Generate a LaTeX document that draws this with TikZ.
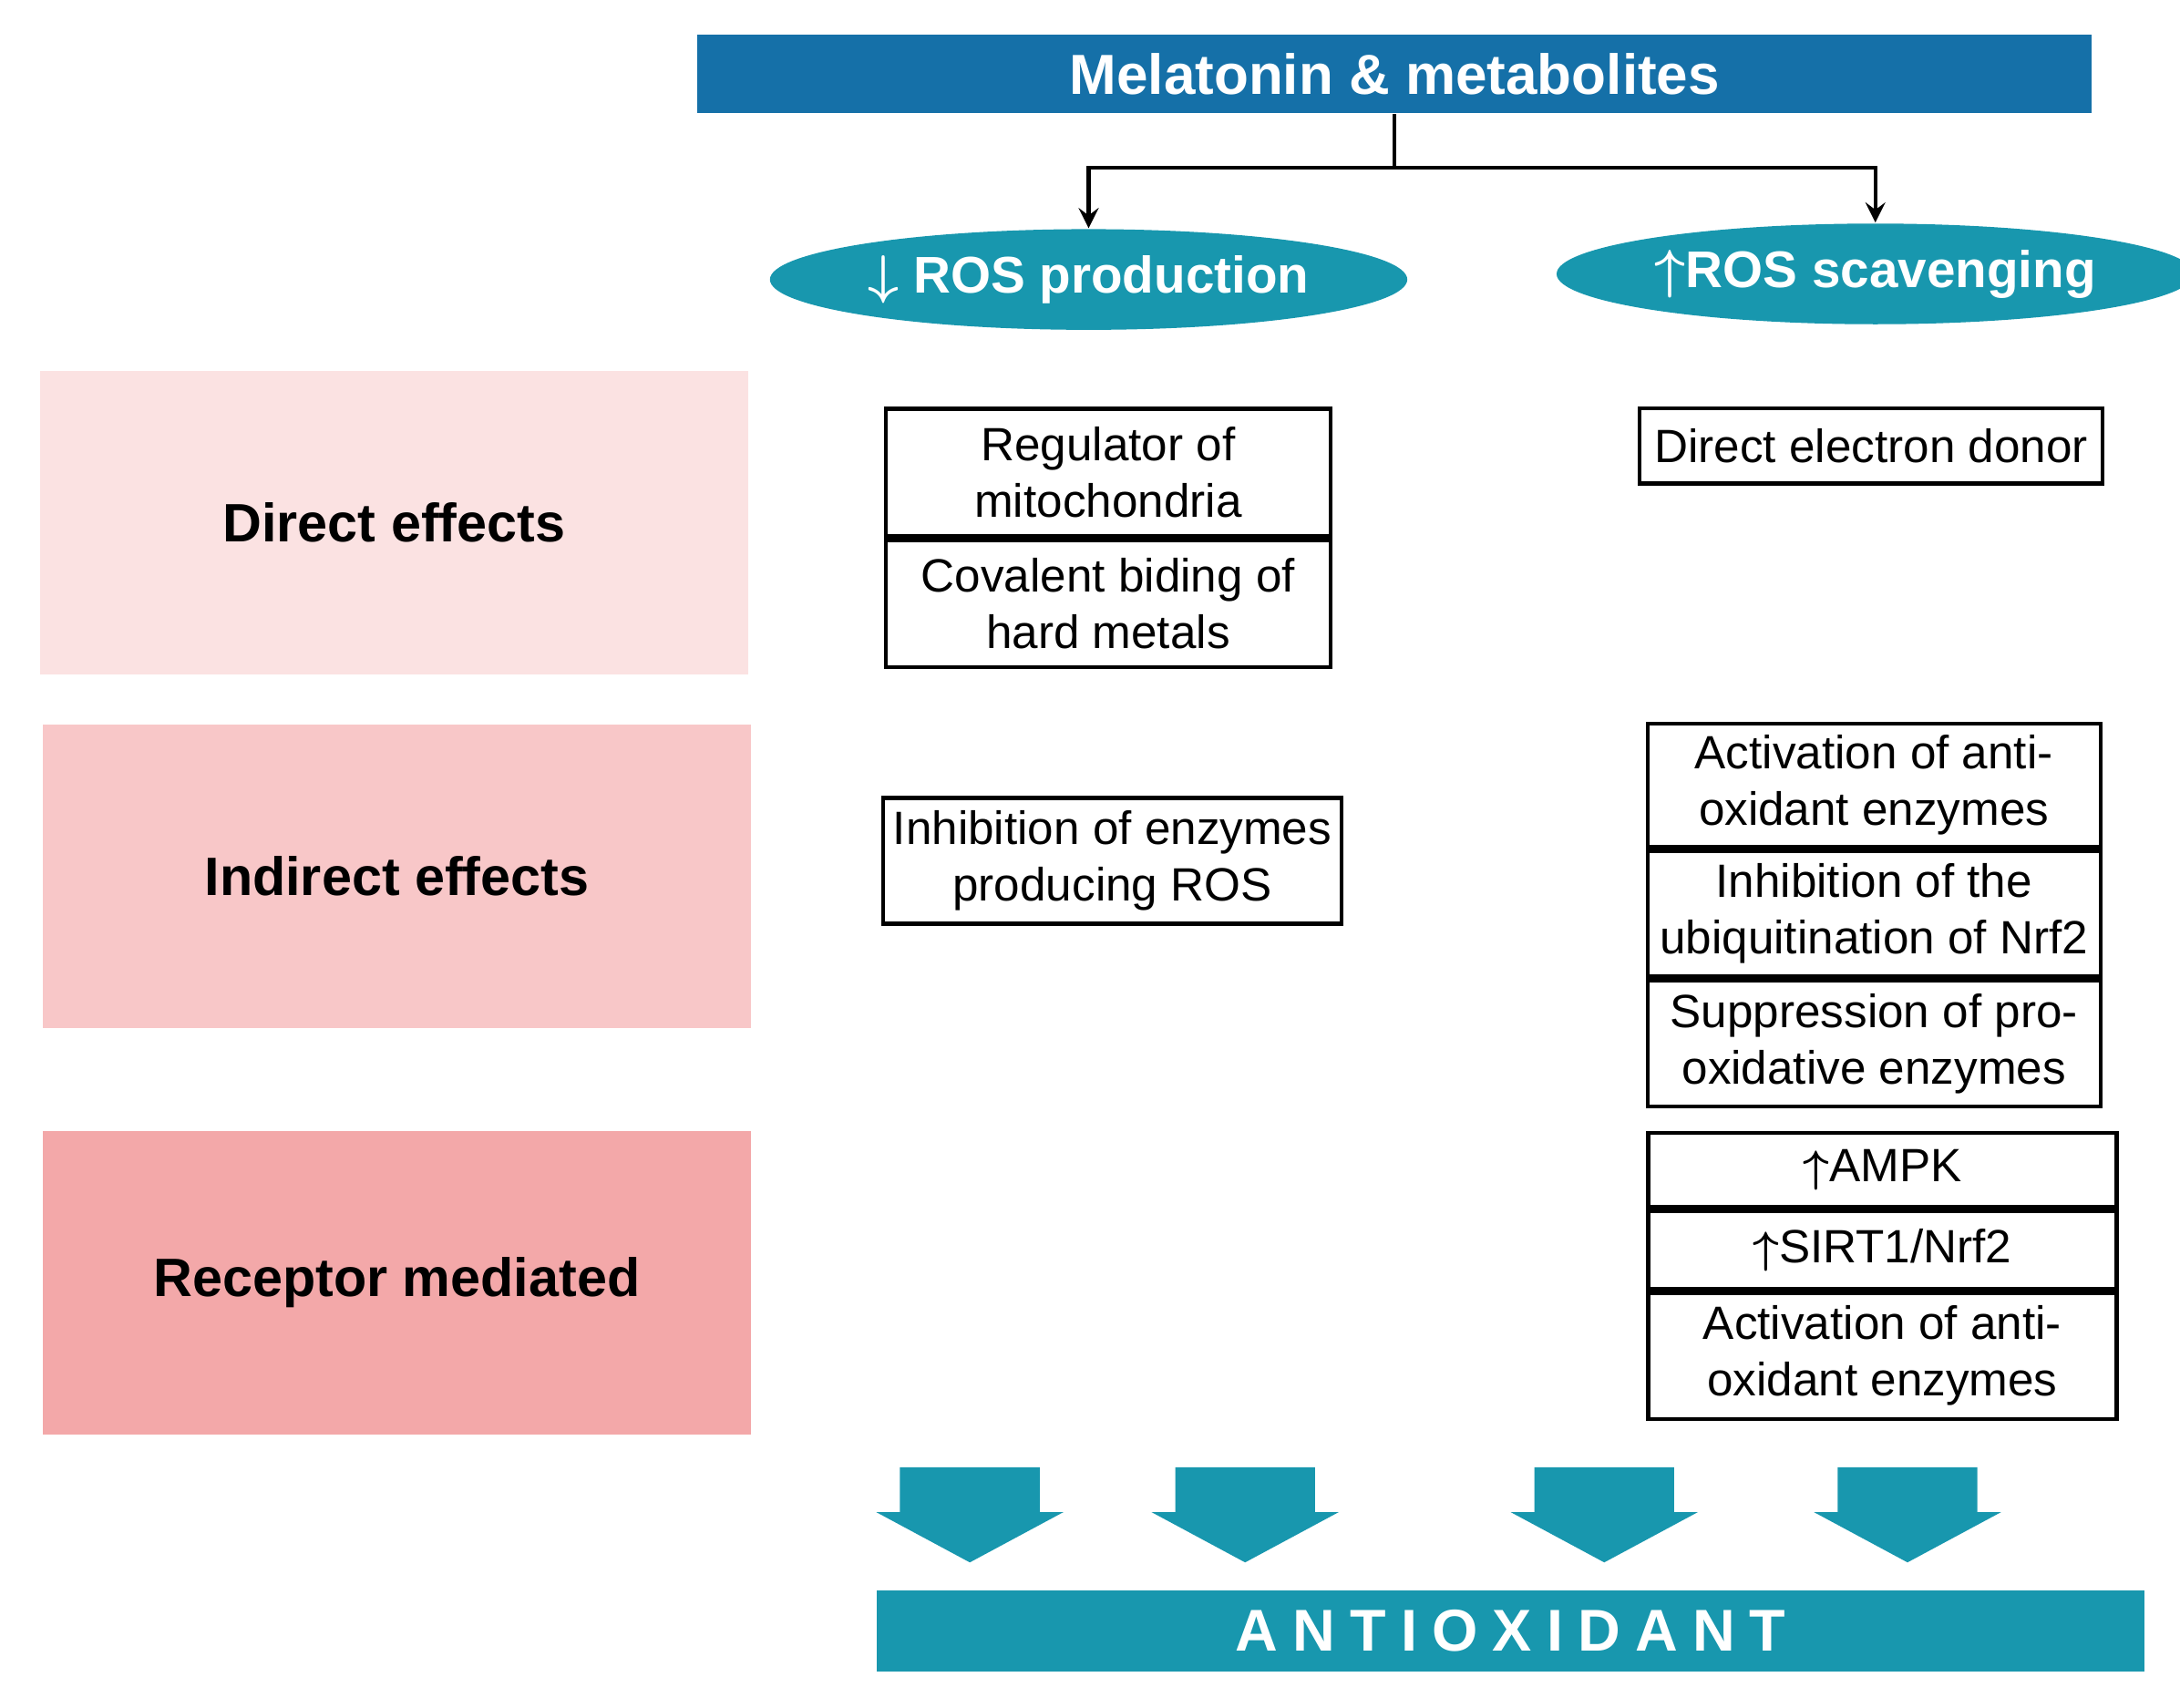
\documentclass[tikz,border=0pt]{standalone}
\usepackage{amsmath,amssymb,bm}
\usepackage{fontspec}
\setmainfont{Liberation Sans}
\usetikzlibrary{shapes,arrows,positioning}
\definecolor{topblue}{HTML}{1570A8}
\definecolor{teal}{HTML}{1897AE}
\definecolor{pinkA}{HTML}{FBE2E2}
\definecolor{pinkB}{HTML}{F8C7C8}
\definecolor{pinkC}{HTML}{F3A8A9}
\tikzset{
  box/.style={draw, thick, fill=white, align=center, inner sep=2pt, font=\fontsize{9.5}{11.5}\selectfont},
  band/.style={draw=none, minimum width=5.06cm, minimum height=2.17cm, font=\fontsize{11}{13}\selectfont\bfseries},
  oval/.style={ellipse, fill=teal, text=white, minimum width=3.05cm, minimum height=0.72cm, inner sep=1pt, font=\fontsize{10.5}{12}\selectfont\bfseries},
  bigarrow/.style={fill=teal}
}
\newcommand{\bigdown}[1]{%
  \fill[bigarrow] ({#1-50},1050) -- ({#1+50},1050) -- ({#1+50},1082) -- ({#1+67},1082)
    -- (#1,1118) -- ({#1-67},1082) -- ({#1-50},1082) -- cycle;}
\begin{document}
\begin{tikzpicture}[x=0.01cm,y=-0.01cm]
  \useasboundingbox (0,0) rectangle (1560,1222);
  % header
  \node[fill=topblue, text=white, minimum width=9.97cm, minimum height=0.56cm,
        font=\fontsize{11.5}{13}\selectfont\bfseries] (mel) at (998,53) {Melatonin \& metabolites};
  \node[oval] (rosp) at (779,200) {$\bm\downarrow$ ROS production};
  \node[oval] (ross) at (1342,196) {$\bm\uparrow$ROS scavenging};
  \coordinate (split) at (998,120);
  \draw[thick] (mel.south) -- (split);
  \draw[thick, ->, >=stealth] (split) -| (rosp.north);
  \draw[thick, ->, >=stealth] (split) -| (ross.north);

  % row labels
  \node[band, fill=pinkA] (direct) at (282,374) {Direct effects};
  \node[band, fill=pinkB] (indirect) at (284,627) {Indirect effects};
  \node[band, fill=pinkC] (receptor) at (284,918) {Receptor mediated};

  % ROS production column
  \node[box, minimum width=3.18cm, minimum height=0.91cm] (regmito) at (793,338) {Regulator of\\mitochondria};
  \node[box, minimum width=3.18cm, minimum height=0.91cm, below=0pt of regmito] (covalent) {Covalent biding of\\hard metals};
  \node[box, minimum width=3.24cm, minimum height=0.90cm] (inhenz) at (796,616) {Inhibition of enzymes\\producing ROS};

  % ROS scavenging column
  \node[box, minimum width=3.31cm, minimum height=0.54cm] (donor) at (1339,319) {Direct electron donor};
  \node[box, minimum width=3.24cm, minimum height=0.88cm] (actA) at (1341,562) {Activation of anti-\\oxidant enzymes};
  \node[box, minimum width=3.24cm, minimum height=0.90cm, below=0pt of actA] (ubiq) {Inhibition of the\\ubiquitination of Nrf2};
  \node[box, minimum width=3.24cm, minimum height=0.90cm, below=0pt of ubiq] (suppr) {Suppression of pro-\\oxidative enzymes};
  \node[box, minimum width=3.35cm, minimum height=0.53cm] (ampk) at (1347,837) {$\bm\uparrow$AMPK};
  \node[box, minimum width=3.35cm, minimum height=0.56cm, below=0pt of ampk] (sirt) {$\bm\uparrow$SIRT1/Nrf2};
  \node[box, minimum width=3.35cm, minimum height=0.90cm, below=0pt of sirt] (actB) {Activation of anti-\\oxidant enzymes};

  % arrows to result
  \bigdown{694}
  \bigdown{891}
  \bigdown{1148}
  \bigdown{1365}
  \node[fill=teal, text=white, minimum width=9.07cm, minimum height=0.58cm,
        font=\fontsize{12}{14}\selectfont\bfseries\addfontfeature{LetterSpace=25}] (anti) at (1081,1167) {ANTIOXIDANT};
\end{tikzpicture}
\end{document}
